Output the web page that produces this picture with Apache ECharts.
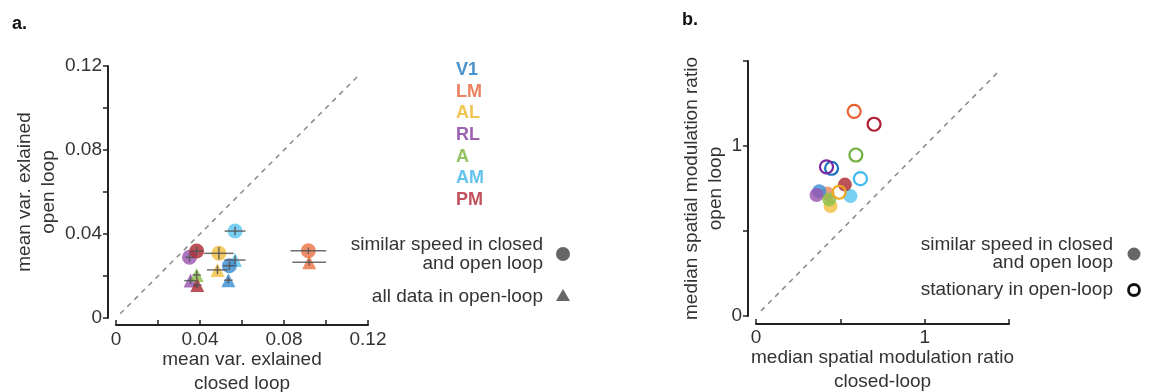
<!DOCTYPE html>
<html>
<head>
<meta charset="utf-8">
<script src="https://cdn.jsdelivr.net/npm/echarts@6/dist/echarts.min.js"></script>
<style>
  html, body { margin: 0; padding: 0; background: #fff; }
  #chart { width: 1155px; height: 392px; }
</style>
</head>
<body>
<div id="chart"></div>
<script>
// Visual areas and their colours
const areas = ['V1', 'LM', 'AL', 'RL', 'A', 'AM', 'PM'];
const areaColors = ['#3a8fd4', '#ec7444', '#f2c040', '#9a55b0', '#8cc04c', '#5cc4ee', '#ac2c34'];
const areaTextColors = ['#4a92cc', '#ea8262', '#f2c452', '#9c62b2', '#92c262', '#62c4ee', '#c2505c'];
const openColors = ['#1a6fc0', '#e86030', '#f0a820', '#7a2aa0', '#70b040', '#40b8ee', '#b01c30'];

// Panel a: similar speed in closed and open loop (circles); null = not shown
const simX    = [0.0540, 0.0916, 0.0490, 0.0350, null, 0.0567, 0.0384];
const simY    = [0.0249, 0.0320, 0.0308, 0.0289, null, 0.0414, 0.0319];
const simXErr = [0.0030, 0.0085, 0.0070, 0.0020, null, 0.0050, 0.0030];
const simYErr = [0.0020, 0.0015, 0.0030, 0.0020, null, 0.0020, 0.0020];

// Panel a: all data in open-loop (triangles)
const allX    = [0.0535, 0.0920, 0.0483, 0.0355, 0.0384, 0.0567, 0.0387];
const allY    = [0.0180, 0.0265, 0.0229, 0.0178, 0.0205, 0.0276, 0.0157];
const allXErr = [0.0020, 0.0080, 0.0050, 0.0030, 0.0020, 0.0050, 0.0020];
const allYErr = [0.0015, 0.0015, 0.0020, 0.0015, 0.0020, 0.0020, 0.0015];

// Panel b: median spatial modulation ratio
const bSimX  = [0.375, 0.424, 0.442, 0.359, 0.434, 0.560, 0.527];
const bSimY  = [0.734, 0.720, 0.647, 0.712, 0.686, 0.706, 0.773];
const bStatX = [0.448, 0.582, 0.493, 0.418, 0.592, 0.619, 0.700];
const bStatY = [0.869, 1.204, 0.728, 0.877, 0.947, 0.808, 1.128];

// Axis ticks
const aTicks = [0, 0.04, 0.08, 0.12];
const bTicks = [0, 1];
const aDiag = [0.002, 0.116];
const bDiag = [0.03, 1.45];

const FONT = 'Liberation Sans, Arial, Helvetica, sans-serif';
const FS = 19;
const chart = echarts.init(document.getElementById('chart'), null, { renderer: 'canvas' });

function fmtA(v) {
  const hit = aTicks.find(t => Math.abs(t - v) < 1e-6);
  if (hit === undefined) return '';
  return hit === 0 ? '0' : hit.toFixed(2);
}
function fmtB(v) {
  const hit = bTicks.find(t => Math.abs(t - v) < 1e-6);
  return hit === undefined ? '' : String(hit);
}

const axisCommon = {
  axisLine: { onZero: false, lineStyle: { color: '#222', width: 2 } },
  splitLine: { show: false },
  axisLabel: { color: '#333', fontSize: FS, fontFamily: FONT },
  nameMoveOverlap: false,
  nameTextStyle: { color: '#333', fontSize: FS, fontFamily: FONT, lineHeight: 24 }
};

function errorBars(xs, ys, exs, eys, gi) {
  const data = [];
  xs.forEach((x, i) => { if (x !== null) data.push([x, ys[i], exs[i], eys[i]]); });
  return {
    type: 'custom', xAxisIndex: gi, yAxisIndex: gi, z: 5, silent: true,
    data: data,
    renderItem: function (params, api) {
      const x = api.value(0), y = api.value(1), ex = api.value(2), ey = api.value(3);
      const l = api.coord([x - ex, y]), r = api.coord([x + ex, y]);
      const t = api.coord([x, y + ey]), b = api.coord([x, y - ey]);
      const st = { stroke: 'rgba(85,85,85,0.85)', lineWidth: 1.5 };
      return { type: 'group', children: [
        { type: 'line', shape: { x1: l[0], y1: l[1], x2: r[0], y2: r[1] }, style: st },
        { type: 'line', shape: { x1: t[0], y1: t[1], x2: b[0], y2: b[1] }, style: st }
      ] };
    }
  };
}

function points(xs, ys, colorArr, opts) {
  const data = [];
  xs.forEach((x, i) => {
    if (x === null) return;
    const style = opts.open
      ? { color: 'rgba(255,255,255,0)', borderColor: colorArr[i], borderWidth: 2.2, opacity: 1 }
      : { color: colorArr[i], opacity: 0.82 };
    data.push({ value: [x, ys[i]], itemStyle: style });
  });
  return {
    type: 'scatter', xAxisIndex: opts.gi, yAxisIndex: opts.gi, z: opts.z || 3,
    symbol: opts.symbol, symbolSize: opts.size, data: data, silent: true
  };
}

function diagonal(range, gi) {
  return {
    type: 'line', xAxisIndex: gi, yAxisIndex: gi, z: 1, silent: true, symbol: 'none',
    data: [[range[0], range[0]], [range[1], range[1]]],
    lineStyle: { color: '#888', width: 1.5, type: [5, 5] }
  };
}

// Draw filled panel-b circles in an order so the overlaps stack naturally
const bOrder = [2, 1, 0, 3, 4, 5, 6];
function ordered(arr) { return bOrder.map(i => arr[i]); }

function label(x, y, text, align) {
  return { type: 'text', x: x, y: y,
    style: { text: text, fill: '#333', font: FS + 'px ' + FONT, align: align || 'right', verticalAlign: 'middle' } };
}
const areaLegend = areas.map((a, i) => ({
  type: 'text', x: 456, y: 70 + i * 21.7,
  style: { text: a, fill: areaTextColors[i], font: 'bold 18px ' + FONT, verticalAlign: 'middle' }
}));

chart.setOption({
  animation: false,
  grid: [
    { left: 116, top: 66, width: 252, height: 252, outerBoundsMode: 'none', containLabel: false },
    { left: 756, top: 61, width: 253, height: 255, outerBoundsMode: 'none', containLabel: false }
  ],
  xAxis: [
    Object.assign({}, axisCommon, {
      gridIndex: 0, type: 'value', min: 0, max: 0.12, interval: 0.02, offset: 7,
      axisTick: { inside: true, length: 5, lineStyle: { color: '#222', width: 1.5 } },
      axisLabel: Object.assign({}, axisCommon.axisLabel, { formatter: fmtA, margin: 5 }),
      name: 'mean var. exlained\nclosed loop', nameLocation: 'middle', nameGap: 23
    }),
    Object.assign({}, axisCommon, {
      gridIndex: 1, type: 'value', min: 0, max: 1.5, interval: 0.5, offset: 8,
      axisTick: { inside: true, length: 5, lineStyle: { color: '#222', width: 1.5 } },
      axisLabel: Object.assign({}, axisCommon.axisLabel, { formatter: fmtB, margin: 4 }),
      name: 'median spatial modulation ratio\nclosed-loop', nameLocation: 'middle', nameGap: 22
    })
  ],
  yAxis: [
    Object.assign({}, axisCommon, {
      gridIndex: 0, type: 'value', min: 0, max: 0.12, interval: 0.02, offset: 8,
      axisTick: { length: 5, lineStyle: { color: '#222', width: 1.5 } },
      axisLabel: Object.assign({}, axisCommon.axisLabel, { formatter: fmtA, margin: 6 }),
      name: 'mean var. exlained\nopen loop', nameLocation: 'middle', nameGap: 47
    }),
    Object.assign({}, axisCommon, {
      gridIndex: 1, type: 'value', min: 0, max: 1.5, interval: 0.5, offset: 8,
      axisTick: { length: 5, lineStyle: { color: '#222', width: 1.5 } },
      axisLabel: Object.assign({}, axisCommon.axisLabel, { formatter: fmtB, margin: 6 }),
      name: 'median spatial modulation ratio\nopen loop', nameLocation: 'middle', nameGap: 20
    })
  ],
  series: [
    diagonal(aDiag, 0),
    points(allX, allY, areaColors, { gi: 0, symbol: 'triangle', size: 14 }),
    points(simX, simY, areaColors, { gi: 0, symbol: 'circle', size: 15 }),
    errorBars(allX, allY, allXErr, allYErr, 0),
    errorBars(simX, simY, simXErr, simYErr, 0),
    diagonal(bDiag, 1),
    points(ordered(bSimX), ordered(bSimY), ordered(areaColors).map((c, k) => k === 1 ? '#ec8a60' : c), { gi: 1, symbol: 'circle', size: 14 }),
    points(bStatX, bStatY, openColors, { gi: 1, symbol: 'circle', size: 13, open: true, z: 4 })
  ],
  graphic: [
    { type: 'text', x: 12, y: 24, style: { text: 'a.', fill: '#111', font: 'bold 18px ' + FONT, verticalAlign: 'middle' } },
    { type: 'text', x: 682, y: 20, style: { text: 'b.', fill: '#111', font: 'bold 18px ' + FONT, verticalAlign: 'middle' } },
    ...areaLegend,
    // panel a marker legend
    label(543, 245, 'similar speed in closed'),
    label(543, 264, 'and open loop'),
    { type: 'circle', shape: { cx: 563, cy: 254, r: 7 }, style: { fill: '#666' } },
    label(543, 297, 'all data in open-loop'),
    { type: 'polygon', shape: { points: [[563, 289], [570, 301], [556, 301]] }, style: { fill: '#666' } },
    // panel b marker legend
    label(1113, 245, 'similar speed in closed'),
    label(1113, 263, 'and open loop'),
    { type: 'circle', shape: { cx: 1134, cy: 254, r: 6.5 }, style: { fill: '#666' } },
    label(1113, 290, 'stationary in open-loop'),
    { type: 'circle', shape: { cx: 1134, cy: 290, r: 5.5 }, style: { fill: 'none', stroke: '#111', lineWidth: 2.8 } }
  ]
});
</script>
</body>
</html>
